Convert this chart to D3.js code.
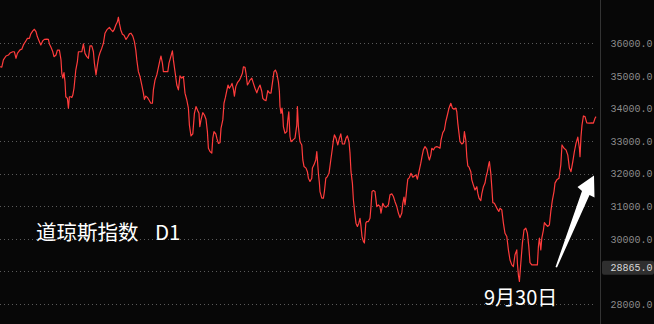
<!DOCTYPE html>
<html>
<head>
<meta charset="utf-8">
<script src="https://cdn.jsdelivr.net/npm/d3@7"></script>
<style>
  html, body { margin: 0; padding: 0; background: #070707; }
  svg { display: block; }
</style>
</head>
<body>
<div id="chart"></div>
<script>
// Dow Jones daily closes (session index, close)
const sessions = [
  0, 0.9, 1.7, 3.0, 4.2, 5.0, 6.4, 7.2, 8.0, 8.7, 10.0, 10.9, 11.7, 13.0, 13.7, 14.7, 15.4, 16.4, 17.2, 18.0,
  18.7, 19.7, 20.4, 21.4, 22.2, 23.4, 24.2, 24.7, 25.5, 26.4, 27.0, 28.0, 28.7, 29.7, 30.5, 30.9, 31.4, 32.0, 32.5, 32.9,
  33.7, 34.2, 34.7, 35.4, 35.9, 36.4, 37.0, 37.9, 38.7, 39.2, 40.9, 41.7, 42.5, 43.4, 44.2, 45.0, 45.9, 46.7, 47.2, 48.0,
  48.7, 49.4, 50.0, 50.9, 51.7, 52.5, 53.4, 54.7, 55.4, 56.4, 57.0, 57.9, 58.7, 59.2, 59.7, 60.4, 61.2, 62.0, 63.0, 63.9,
  64.7, 65.5, 66.4, 67.2, 67.9, 68.4, 69.2, 70.0, 70.9, 71.7, 72.2, 72.9, 73.7, 74.5, 75.4, 76.2, 76.7, 77.5, 78.4, 79.2,
  80.0, 80.5, 81.2, 81.7, 82.5, 83.9, 84.5, 85.4, 86.2, 86.7, 87.5, 88.4, 89.2, 90.0, 90.9, 91.7, 92.5, 93.4, 94.2, 94.7,
  95.5, 96.4, 97.2, 98.0, 98.9, 99.5, 99.9, 100.5, 101.4, 102.2, 103.0, 103.7, 104.2, 105.0, 105.9, 106.4, 107.0, 107.9, 108.4, 109.2,
  110.0, 110.5, 111.4, 112.0, 112.7, 113.4, 114.0, 114.7, 115.4, 116.0, 116.7, 117.2, 117.9, 118.7, 119.7, 120.4, 121.2, 121.7, 122.5, 123.0,
  123.7, 124.4, 125.0, 125.9, 126.7, 127.5, 128.4, 129.2, 130.0, 130.9, 131.4, 132.2, 133.0, 133.9, 134.7, 135.5, 136.4, 137.0, 137.7, 138.4,
  139.2, 139.7, 140.0, 140.5, 141.0, 141.4, 141.7, 142.5, 143.4, 143.9, 144.4, 145.0, 145.5, 146.4, 147.5, 148.4, 148.7, 149.2, 149.7, 150.0,
  150.9, 151.4, 152.0, 153.0, 153.7, 154.2, 155.0, 155.9, 156.2, 157.0, 157.9, 158.4, 159.2, 159.7, 160.0, 160.9, 161.7, 162.2, 162.9, 163.7,
  164.5, 165.4, 166.2, 166.7, 167.2, 168.0, 168.9, 169.7, 170.4, 171.2, 172.2, 173.0, 173.7, 174.5, 175.0, 175.5, 176.2, 176.7, 177.5, 178.0,
  178.7, 179.4, 180.0, 180.5, 181.0, 181.7, 182.2, 182.9, 183.4, 184.2, 185.0, 185.5, 186.0, 186.7, 187.5, 188.4, 189.2, 190.0, 190.5, 191.4,
  192.2, 193.0, 194.2, 195.0, 195.9, 196.7, 197.5, 198.4, 199.2, 200.0, 200.9, 201.4, 202.0, 202.5, 203.0, 203.4, 203.9, 204.7, 205.5, 206.4,
  207.2, 208.0, 208.7, 209.5, 210.4, 211.0, 211.7, 212.5, 213.4, 214.2, 214.7, 215.4, 215.9, 216.7, 217.5, 218.4, 219.2, 220.0, 220.5, 221.4,
  222.2, 222.9, 223.7, 224.5, 225.4, 226.2, 227.0, 227.9, 228.4, 228.9, 229.5, 230.0, 230.9, 231.7, 232.2, 232.9, 233.4, 233.9, 234.5, 235.4,
  235.9, 236.7, 237.5, 238.4, 238.9, 239.5, 240.4, 240.9, 241.7, 242.5, 243.0, 243.7, 244.4, 244.7, 245.4, 246.0, 246.4, 247.2, 248.0, 248.7,
  249.4, 250.0, 250.9, 251.7, 252.5, 253.4, 254.2, 255.0, 255.9, 256.7, 257.5, 258.4, 258.7, 259.2, 259.7, 260.4, 261.2, 262.0, 262.9, 263.7,
  264.4, 265.0, 265.9, 267.5, 268.7, 269.2, 269.7, 270.4, 270.9, 271.7, 272.2, 273.0, 273.9, 274.7, 275.4, 276.2, 277.0, 277.5, 278.4, 279.5,
  280.4, 281.0, 282.0, 283.0, 283.9, 284.7, 285.5, 286.4, 287.2, 288.0, 288.9, 289.7, 290.0, 290.5, 291.0, 291.7, 292.5, 293.4, 294.7, 295.9,
  296.7, 297.5, 298.0
];
const closes = [
  35280, 35270, 35490, 35610, 35640, 35700, 35740, 35740, 35540, 35690, 35800, 35820, 35950, 36080, 36150, 36150, 36290, 36380, 36430, 36360,
  36200, 36050, 35950, 36080, 36120, 36130, 36120, 35980, 35880, 35740, 35590, 35640, 35790, 35790, 35490, 35080, 34930, 35100, 34820, 34360,
  34310, 34010, 34360, 34360, 34340, 34410, 34620, 35180, 35440, 35740, 35740, 35980, 35690, 35590, 35540, 35920, 35920, 35740, 35390, 35030,
  35330, 35590, 35710, 35850, 36000, 36310, 36410, 36490, 36430, 36360, 36410, 36560, 36660, 36800, 36610, 36410, 36280, 36250, 36120, 36200,
  36290, 36310, 36220, 36050, 35790, 35490, 35130, 34980, 34720, 34470, 34280, 34380, 34340, 34260, 34160, 34160, 34570, 34870, 35030, 35260,
  35490, 35610, 35390, 35130, 35130, 35130, 35390, 35590, 35770, 35490, 35130, 34720, 34570, 35000, 34930, 34980, 34470, 34260, 34010, 33490,
  33160, 33220, 33850, 34060, 33930, 33850, 33440, 33650, 33870, 33800, 33670, 33290, 32780, 32680, 32630, 33090, 33290, 33220, 33090, 32930,
  32950, 33390, 33650, 34160, 34340, 34550, 34720, 34620, 34690, 34770, 34590, 34380, 34670, 34790, 34870, 34960, 35080, 35280, 35260, 35080,
  34720, 34790, 34870, 34930, 34770, 34620, 34480, 34620, 34720, 34520, 34310, 34260, 34240, 34550, 34480, 34470, 34870, 35130, 35180, 35080,
  34820, 34520, 34060, 33850, 34010, 33800, 33440, 33240, 33290, 33650, 33900, 33140, 32980, 33030, 33090, 33490, 34060, 33440, 33140, 32980,
  32880, 32420, 32220, 32170, 32060, 31860, 31760, 31860, 32170, 32270, 32420, 32680, 32010, 31710, 31450, 31250, 31250, 31450, 31860, 31910,
  32010, 32420, 32780, 33030, 33190, 33090, 32880, 33090, 33220, 32910, 32910, 33090, 33160, 32980, 32630, 32060, 31710, 31190, 30730, 30480,
  30380, 30480, 30630, 30380, 30070, 29920, 29870, 30480, 30530, 30530, 30630, 30990, 31450, 31480, 31450, 30990, 31040, 30990, 30790, 31090,
  30990, 30970, 31040, 31350, 31380, 31300, 31140, 30990, 30790, 30650, 30790, 31090, 31280, 31040, 31300, 31550, 31830, 31880, 32010, 31890,
  31930, 31960, 31830, 32060, 32320, 32520, 32730, 32830, 32750, 32520, 32420, 32570, 32780, 32730, 32810, 32830, 32810, 32780, 33030, 33260,
  33340, 33600, 33800, 34010, 34160, 34010, 33980, 34010, 33900, 33550, 33240, 32980, 32910, 32950, 33290, 33030, 32520, 32240, 32200, 32060,
  31810, 31650, 31500, 31600, 31400, 31250, 31170, 31380, 31600, 31710, 31890, 32060, 32300, 32370, 32010, 31500, 31110, 31090, 30990, 30910,
  30840, 30940, 30890, 30480, 30170, 30070, 29660, 29350, 29200, 29150, 29510, 29660, 29250, 28890, 28690, 29250, 29870, 30270, 30330, 30170,
  29760, 29270, 29200, 29200, 29200, 29760, 30020, 29660, 30020, 30270, 30500, 30430, 30380, 30430, 30840, 31190, 31450, 31710, 31810, 31860,
  32270, 32880, 32780, 32730, 32570, 32170, 32060, 32370, 32680, 32930, 33120, 32780, 32520, 33140, 33490, 33770, 33750, 33560, 33550, 33560,
  33550, 33700, 33750
];
const gridTicks = [28000, 29000, 30000, 31000, 32000, 33000, 34000, 35000, 36000];
const labelTicks = [28000, 30000, 31000, 32000, 33000, 34000, 35000, 36000]; // 29000 sits under the marked price box
const markedPrice = 28865.0;
const titleName = '道琼斯指数';
const titlePeriod = 'D1';
const dateText = '9月30日';

const W = 654, H = 324;
const plotRight = 600; // price axis line

const svg = d3.select('#chart').append('svg')
    .attr('width', W)
    .attr('height', H);

svg.append('rect').attr('width', W).attr('height', H).attr('fill', '#070707');

const x = d3.scaleLinear().domain([0, 300]).range([0, 600]);
const y = d3.scaleLinear().domain([28000, 36000]).range([304, 43.3]);

// dotted grid lines
svg.append('g')
    .selectAll('line')
    .data(gridTicks)
    .enter().append('line')
    .attr('x1', 0)
    .attr('x2', plotRight - 4)
    .attr('y1', d => Math.round(y(d)) + 0.5)
    .attr('y2', d => Math.round(y(d)) + 0.5)
    .attr('stroke', '#5a5a5a')
    .attr('stroke-width', 1)
    .attr('stroke-dasharray', '1,3');

// price axis on the right
const axis = svg.append('g')
    .attr('transform', `translate(${plotRight + 0.5},0)`)
    .call(d3.axisRight(y).tickValues(labelTicks).tickSize(0).tickPadding(10).tickFormat(d3.format('.1f')));
axis.select('.domain').remove();
axis.append('line')
    .attr('y1', 0).attr('y2', H)
    .attr('stroke', '#333');
axis.selectAll('text')
    .attr('fill', '#8c8c8c')
    .style('font-family', '"Liberation Mono", "DejaVu Sans Mono", monospace')
    .style('font-size', '10px');

// index line
const line = d3.line()
    .x((d, i) => x(sessions[i]))
    .y(d => y(d));

svg.append('path')
    .datum(closes)
    .attr('fill', 'none')
    .attr('stroke', '#ff3c3c')
    .attr('stroke-width', 1.2)
    .attr('stroke-linejoin', 'round')
    .attr('d', line);

// marked price label box
const boxY = y(markedPrice) - 15;
svg.append('rect')
    .attr('x', plotRight + 2)
    .attr('y', boxY)
    .attr('width', W - plotRight - 2)
    .attr('height', 14)
    .attr('rx', 2)
    .attr('fill', '#2f2f2f');
svg.append('text')
    .attr('x', plotRight + 10.5)
    .attr('y', boxY + 7)
    .attr('dy', '0.35em')
    .attr('fill', '#d8d8d8')
    .style('font-family', '"Liberation Mono", "DejaVu Sans Mono", monospace')
    .style('font-size', '10px')
    .text(d3.format('.1f')(markedPrice));

// annotations
const title = svg.append('text')
    .attr('y', 240)
    .attr('fill', '#ffffff')
    .style('font-family', '"Noto Sans CJK SC", "Noto Sans", sans-serif')
    .style('font-size', '20.5px');
title.append('tspan').attr('x', 36).text(titleName);
title.append('tspan').attr('x', 155).text(titlePeriod);

svg.append('text')
    .attr('x', 484)
    .attr('y', 305)
    .attr('fill', '#ffffff')
    .style('font-family', '"Noto Sans CJK SC", "Noto Sans", sans-serif')
    .style('font-size', '20px')
    .text(dateText);

// arrow pointing to the rebound
const tip = [594, 175.5];
svg.append('path')
    .attr('d', `M555.5,267 L${tip[0] - 12},${tip[1] + 15.5} L${tip[0] - 16.5},${tip[1] + 11.5} L${tip[0]},${tip[1]} L${tip[0] + 0.5},${tip[1] + 22} L${tip[0] - 4.5},${tip[1] + 19.5} L557,267.5 Z`)
    .attr('fill', '#ffffff');
</script>
</body>
</html>
